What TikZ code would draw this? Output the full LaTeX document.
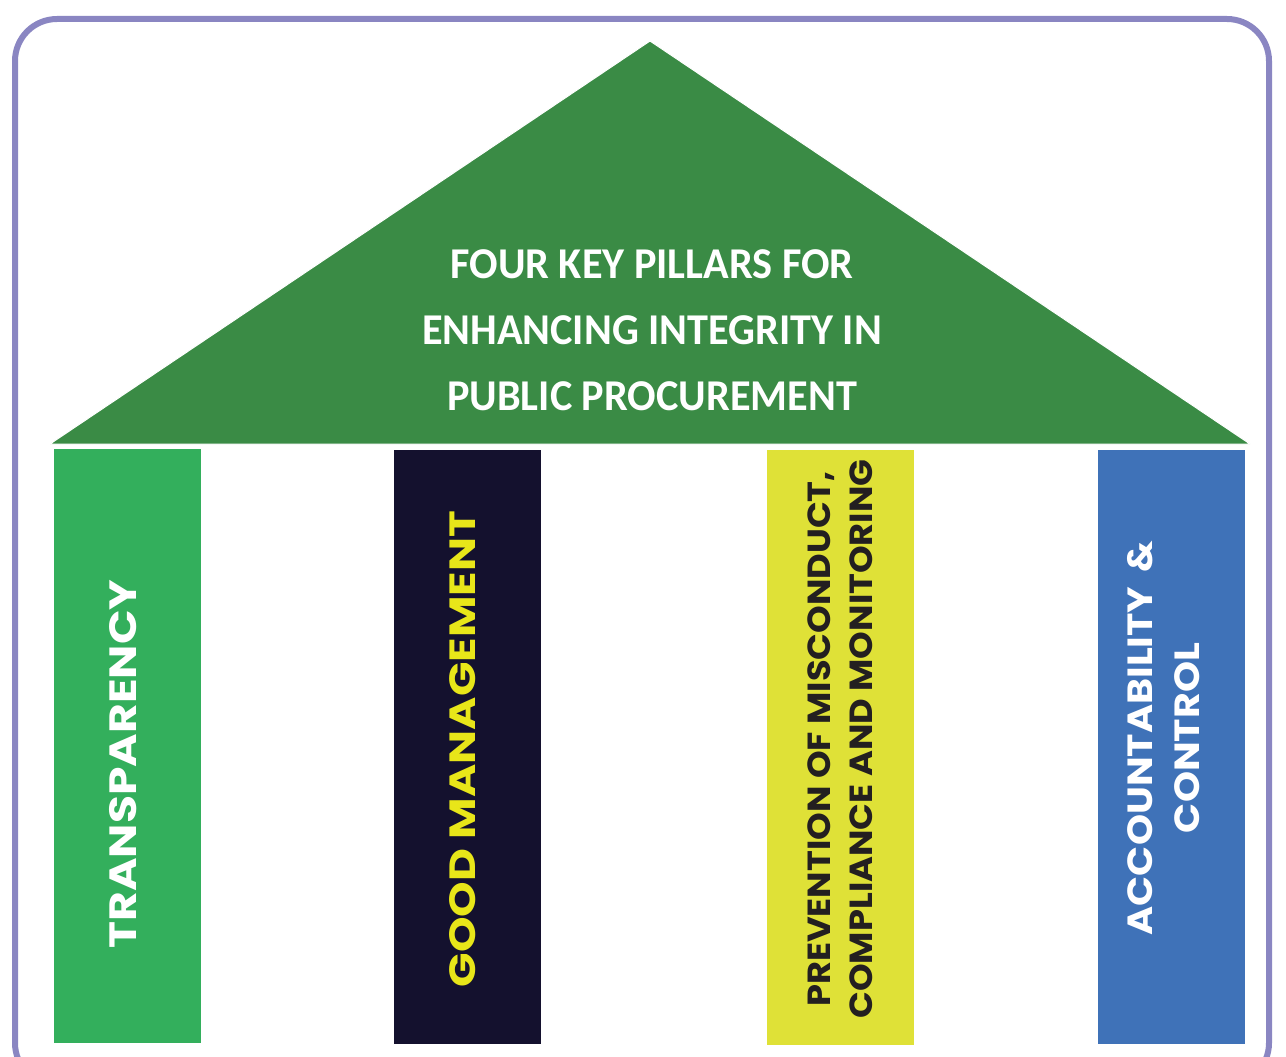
\documentclass[tikz,border=0pt]{standalone}
\usepackage{fontspec}
\setmainfont{Poppins}
\newfontfamily\pfA{Poppins}[FakeStretch=1.2]
\newfontfamily\pfB{Poppins}[FakeStretch=1.24]
\newfontfamily\pfC{Poppins}[FakeStretch=1.1]
\newfontfamily\pfD{Poppins}[FakeStretch=1.13]
\newfontfamily\rooffont{Carlito}[FakeStretch=0.96]
\definecolor{framec}{HTML}{8A86C2}
\definecolor{roofc}{HTML}{3A8B45}
\definecolor{transc}{HTML}{33AF5C}
\definecolor{navyc}{HTML}{14112E}
\definecolor{yelc}{HTML}{DFE137}
\definecolor{yeltxt}{HTML}{E8E619}
\definecolor{bluec}{HTML}{3F72B8}
\definecolor{darktxt}{HTML}{231F20}
\begin{document}
\begin{tikzpicture}[x=1pt,y=-1pt,
  pillar/.style={draw=none,minimum width=147pt,minimum height=594pt,inner sep=0pt,outer sep=0pt},
  ptext/.style={rotate=90,inner sep=0pt,align=center},
  rooftext/.style={inner sep=0pt,align=center,text=white,font=\rooffont\bfseries\fontsize{44}{66}\selectfont}]
\useasboundingbox (0,0) rectangle (1286,1057);
\clip (0,0) rectangle (1286,1057);
\draw[framec,line width=6pt,rounded corners=42pt] (15,19) rectangle (1269,1085);
\fill[roofc,draw=white,line width=1pt] (650,41) -- (1250,444) -- (50,444) -- cycle;
\node[rooftext] (title) at (652,330) {FOUR KEY PILLARS FOR\\ENHANCING INTEGRITY IN\\PUBLIC PROCUREMENT};
\node[pillar,fill=transc] (p1) at (127,746) {};
\node[pillar,fill=navyc] (p2) at (467.5,746.5) {};
\node[pillar,fill=yelc,minimum height=595pt] (p3) at (840.5,747.5) {};
\node[pillar,fill=bluec] (p4) at (1171.5,746.5) {};
\node[ptext,text=white,font=\pfA\bfseries\fontsize{38}{46}\selectfont] (t1) at (123.5,764) {TRANSPARENCY};
\node[ptext,text=yeltxt,font=\pfB\bfseries\fontsize{36.5}{46}\selectfont] (t2) at (462.5,749) {GOOD MANAGEMENT};
\node[ptext,text=darktxt,font=\pfC\bfseries\fontsize{32}{42}\selectfont] (t3) at (840,739) {PREVENTION OF MISCONDUCT,\\COMPLIANCE AND MONITORING};
\node[ptext,text=white,font=\pfD\bfseries\fontsize{35}{47}\selectfont] (t4) at (1164,738) {ACCOUNTABILITY~\,\&\\CONTROL};
\end{tikzpicture}
\end{document}
